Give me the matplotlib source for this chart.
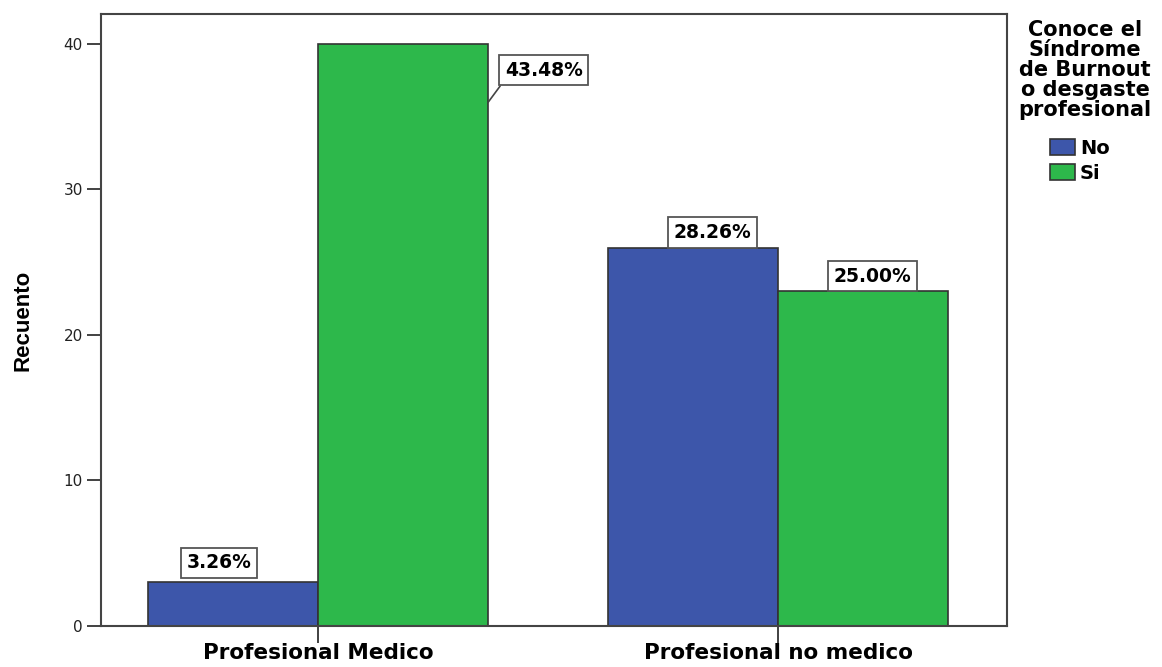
import numpy as np
import matplotlib.pyplot as plt

# --- DATOS ---
categorias = ["Profesional Medico", "Profesional no medico"]
series = ["No", "Si"]
recuento_no = [3, 26]
recuento_si = [40, 23]
porcentajes_no = ["3.26%", "28.26%"]
porcentajes_si = ["43.48%", "25.00%"]
titulo_leyenda = "Conoce el\nSíndrome\nde Burnout\no desgaste\nprofesional"

colores = {"No": "#3D56AA", "Si": "#2DB84B"}

fig = plt.figure(figsize=(11.62, 6.67), dpi=100)
ax = fig.add_axes([101 / 1162, 41 / 667, 906 / 1162, 612 / 667])

x = np.arange(len(categorias))
w = 0.37

b_no = ax.bar(x - w / 2, recuento_no, w, color=colores["No"], edgecolor="#333333",
              linewidth=1.2, label="No")
b_si = ax.bar(x + w / 2, recuento_si, w, color=colores["Si"], edgecolor="#333333",
              linewidth=1.2, label="Si")

box = dict(boxstyle="square,pad=0.3", fc="white", ec="#555555", lw=1.3)
txt = dict(fontsize=13.5, fontweight="bold", family="DejaVu Sans", ha="center", va="center")

# etiquetas de porcentaje (desplazamientos en puntos respecto a la cima de la barra)
offsets_no = [(-10, 14), (14, 11)]
offsets_si = [(40, 23), (7, 11)]
for bars, labs, offs in [(b_no, porcentajes_no, offsets_no), (b_si, porcentajes_si, offsets_si)]:
    for rect, lab, off in zip(bars, labs, offs):
        xc = rect.get_x() + rect.get_width() / 2
        h = rect.get_height()
        if off[0] > 30:
            ax.annotate(lab, xy=(rect.get_x() + rect.get_width(), h - 4), xytext=off,
                        textcoords="offset points", bbox=box,
                        arrowprops=dict(arrowstyle="-", color="#444444", lw=1.2,
                                        shrinkA=0, shrinkB=0, relpos=(0.0, 0.0)),
                        **txt)
        else:
            ax.annotate(lab, xy=(xc, h), xytext=off, textcoords="offset points",
                        bbox=box, **txt)

ax.set_xlim(-0.4717, 1.4978)
ax.set_ylim(0, 42.06)
ax.set_yticks([0, 10, 20, 30, 40])
ax.set_xticks(x)
ax.set_xticklabels(categorias, fontsize=15.5, fontweight="bold", family="DejaVu Sans")
ax.tick_params(axis="y", direction="out", length=10, width=1.3, labelsize=11,
               colors="#333333", pad=3)
ax.tick_params(axis="x", direction="out", length=12, width=1.3, pad=0.5, colors="#333333")
for lab in ax.get_xticklabels():
    lab.set_color("black")
for lab in ax.get_yticklabels():
    lab.set_color("#222222")

for s in ax.spines.values():
    s.set_color("#444444")
    s.set_linewidth(1.5)

ax.set_ylabel("Recuento", fontsize=16, fontweight="bold",
              family="Liberation Sans", labelpad=22)

# leyenda: título centrado aparte, cuadros debajo
fig.text(1085 / 1162, 1 - 20 / 667, titulo_leyenda, ha="center", va="top",
         fontsize=15, fontweight="bold", linespacing=1.0, multialignment="center")
fig.legend(handles=[b_no, b_si], labels=series, loc="upper left",
           bbox_to_anchor=(1036 / 1162, 1 - 125 / 667), frameon=False,
           prop=dict(size=14, weight="bold"), handlelength=1.3, handleheight=0.95,
           handletextpad=0.25, labelspacing=0.3, borderpad=0.2)

fig.savefig("out.png", dpi=100)
